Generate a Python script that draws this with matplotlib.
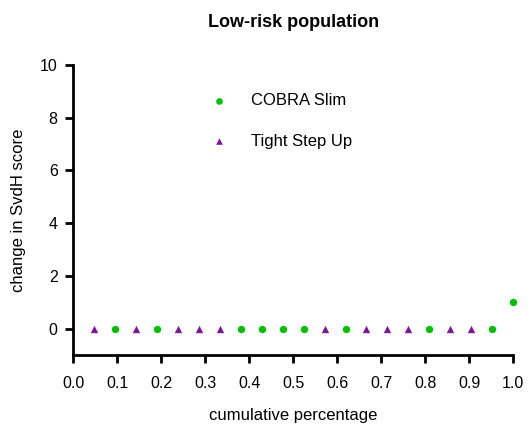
import matplotlib
matplotlib.use("Agg")
import matplotlib.pyplot as plt

plt.rcParams['font.family'] = ['Liberation Sans', 'DejaVu Sans']

cobra_x = [2/21, 4/21, 8/21, 9/21, 10/21, 11/21, 13/21, 17/21, 20/21, 21/21]
cobra_y = [0, 0, 0, 0, 0, 0, 0, 0, 0, 1]
tight_x = [1/21, 3/21, 5/21, 6/21, 7/21, 12/21, 14/21, 15/21, 16/21, 18/21, 19/21]
tight_y = [0] * 11

xticks = [0.0, 0.1, 0.2, 0.3, 0.4, 0.5, 0.6, 0.7, 0.8, 0.9, 1.0]
yticks = [0, 2, 4, 6, 8, 10]

fig = plt.figure(figsize=(5.31, 4.33), dpi=100)
ax = fig.add_axes([0.1375, 0.180, 0.829, 0.670])

ax.scatter(cobra_x, cobra_y, marker='o', s=28, color='#00c000', linewidths=0,
           label='COBRA Slim', clip_on=False, zorder=3)
ax.scatter(tight_x, tight_y, marker='^', s=28, color='#7f129f', linewidths=0,
           label='Tight Step Up', clip_on=False, zorder=3)

ax.set_xlim(0, 1.0)
ax.set_ylim(-1, 10)
ax.set_xticks(xticks)
ax.set_xticklabels([f"{v:.1f}" for v in xticks])
ax.set_yticks(yticks)

for s in ['top', 'right']:
    ax.spines[s].set_visible(False)
for s in ['left', 'bottom']:
    ax.spines[s].set_linewidth(2)
ax.tick_params(axis='both', direction='out', length=6, width=2, labelsize=11.5,
               colors='black', pad=5)
ax.tick_params(axis='x', pad=9)

ax.set_xlabel('cumulative percentage', fontsize=12, labelpad=12)
ax.set_ylabel('change in SvdH score', fontsize=12, labelpad=10)
ax.set_title('Low-risk population', fontsize=13, fontweight='bold', pad=27)

leg = ax.legend(loc='upper left', bbox_to_anchor=(0.26, 0.955), frameon=False,
                fontsize=12, labelspacing=1.55, handletextpad=0.9,
                markerscale=0.9)

fig.savefig('out.png', dpi=100)
